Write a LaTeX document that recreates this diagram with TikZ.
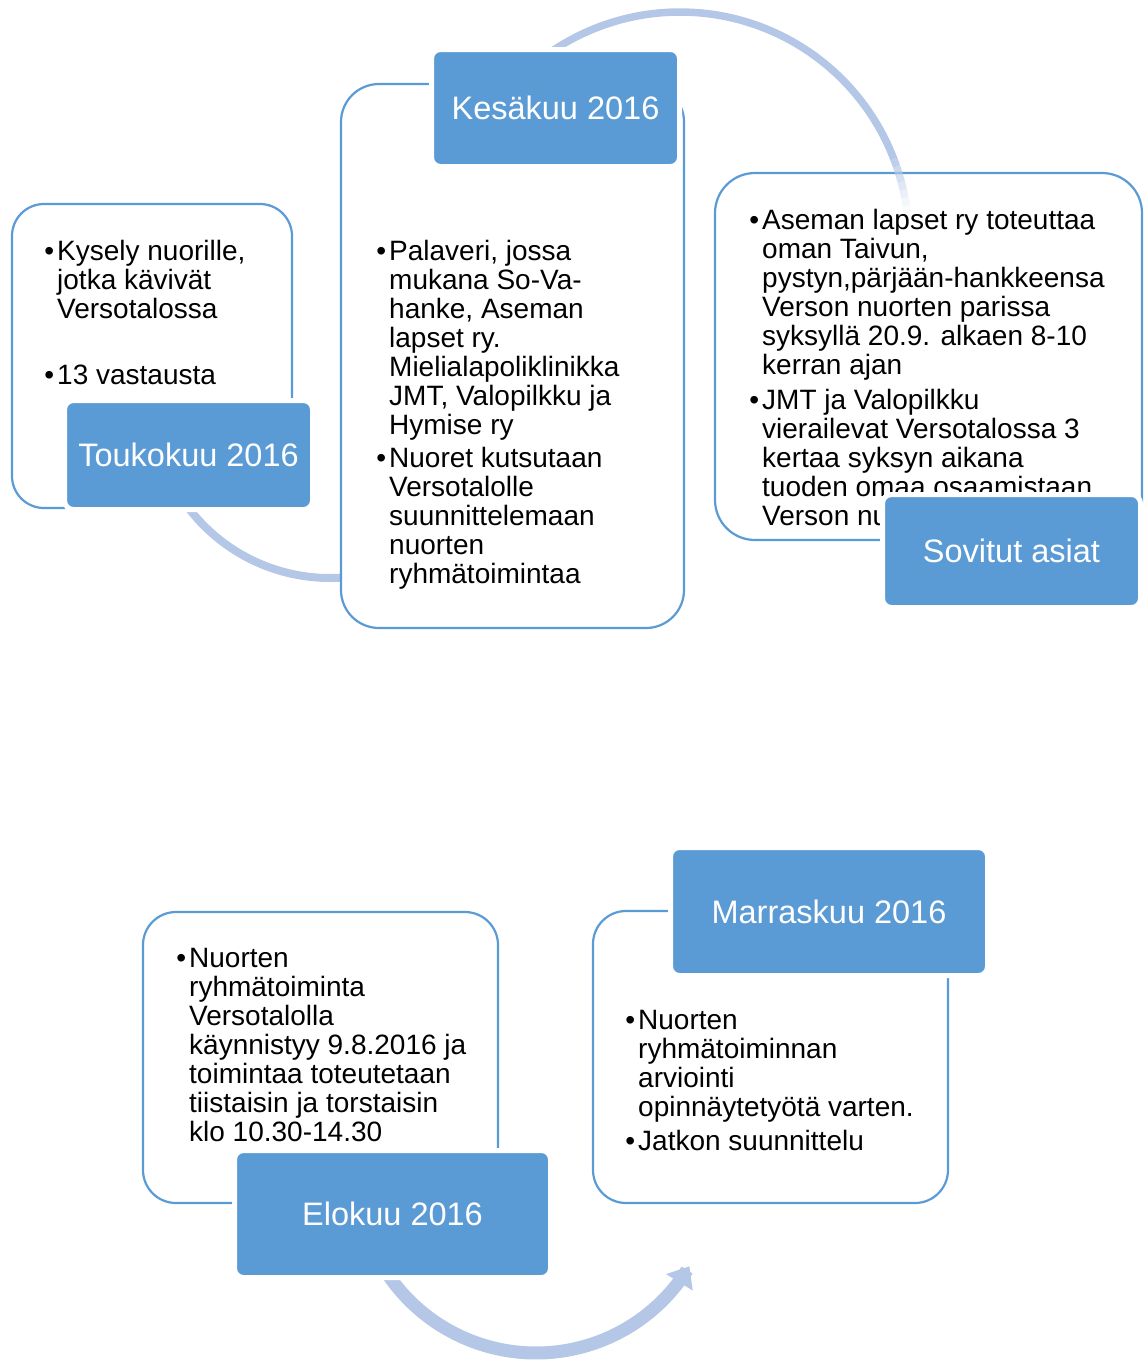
\documentclass[tikz,border=0pt]{standalone}
\usepackage{fontspec}
\setmainfont{Liberation Sans}
\usetikzlibrary{arrows.meta}
\definecolor{boxblue}{RGB}{91,155,213}
\definecolor{arcblue}{RGB}{180,199,231}
\newcommand{\bodyfont}{\fontsize{28}{29}\selectfont}
\newcommand{\bul}{\llap{•\hspace{3pt}}}
\tikzset{
  tbox/.style={draw=boxblue, line width=2.2pt, fill=white, rounded corners=34pt, inner sep=0pt},
  lbl/.style={fill=boxblue, draw=white, line width=5pt, rounded corners=9pt, text=white,
              font=\fontsize{32.5}{36}\selectfont, inner sep=0pt},
  body/.style={anchor=north west, inner sep=0pt, font=\bodyfont, text=black},
  arcline/.style={draw=arcblue, line width=8pt}
}
\begin{document}
\begin{tikzpicture}[x=1pt,y=-1pt]
\useasboundingbox (0,0) rectangle (1144,1360);

% connectors drawn behind the boxes
\draw[arcline] plot[domain=142:78, samples=60] ({330+178*cos(\x)},{400+178*sin(\x)});
\draw[arcline, line width=13pt, -{Triangle[length=19pt,width=30pt]}]
  plot[domain=146:31, samples=80] ({536+179*cos(\x)},{1174+179*sin(\x)});

% text boxes
\node[tbox, rounded corners=32pt, minimum width=280pt, minimum height=304pt] (tkb) at (152,356) {};
\node[tbox, rounded corners=38pt, minimum width=343pt, minimum height=544pt] (ksb) at (512.5,356) {};
\node[tbox, rounded corners=40pt, minimum width=427pt, minimum height=367pt] (svb) at (928.5,356.5) {};
\node[tbox, rounded corners=33pt, minimum width=355pt, minimum height=291pt] (elb) at (320.5,1057.5) {};
\node[tbox, rounded corners=33pt, minimum width=355pt, minimum height=292pt] (mrb) at (770.5,1057) {};

% body texts
\node[body] (tkt) at (57,239.7) {\begin{tabular}{@{}l@{}}
\bul Kysely nuorille,\\
jotka kävivät\\
Versotalossa\\[37pt]
\bul 13 vastausta
\end{tabular}};

\node[body] (kst) at (389,239.7) {\begin{tabular}{@{}l@{}}
\bul Palaveri, jossa\\
mukana So-Va-\\
hanke, Aseman\\
lapset ry.\\
Mielialapoliklinikka\\
JMT, Valopilkku ja\\
Hymise ry\\[4pt]
\bul Nuoret kutsutaan\\
Versotalolle\\
suunnittelemaan\\
nuorten\\
ryhmätoimintaa
\end{tabular}};

\node[body] (svt) at (762,208.7) {\begin{tabular}{@{}l@{}}
\bul Aseman lapset ry toteuttaa\\
oman Taivun,\\
pystyn,pärjään-hankkeensa\\
Verson nuorten parissa\\
syksyllä 20.9. alkaen 8-10\\
kerran ajan\\[6pt]
\bul JMT ja Valopilkku\\
vierailevat Versotalossa 3\\
kertaa syksyn aikana\\
tuoden omaa osaamistaan\\
Verson nu
\end{tabular}};

\node[body] (elt) at (189,946.7) {\begin{tabular}{@{}l@{}}
\bul Nuorten\\
ryhmätoiminta\\
Versotalolla\\
käynnistyy 9.8.2016 ja\\
toimintaa toteutetaan\\
tiistaisin ja torstaisin\\
klo 10.30-14.30
\end{tabular}};

\node[body] (mrt) at (638,1008.7) {\begin{tabular}{@{}l@{}}
\bul Nuorten\\
ryhmätoiminnan\\
arviointi\\
opinnäytetyötä varten.\\[5pt]
\bul Jatkon suunnittelu
\end{tabular}};

% top arc, fading into the right-hand box
\draw[arcline, line width=7.5pt] plot[domain=-125:-21, samples=80] ({680+229*cos(\x)},{241+229*sin(\x)});
\foreach \a/\b/\o in {-21/-19/0.85,-19/-17/0.7,-17/-15/0.55,-15/-13/0.4,-13/-11/0.27,-11/-9/0.15,-9/-7/0.06}
  \draw[arcline, line width=7.5pt, draw opacity=\o] plot[domain=\a:\b, samples=5] ({680+229*cos(\x)},{241+229*sin(\x)});

% label boxes (white rim lies outside the blue area)
\node[lbl, minimum width=248pt, minimum height=109pt] (tk) at (188.5,455) {Toukokuu 2016};
\node[lbl, minimum width=248pt, minimum height=117pt] (ks) at (555.5,108) {Kesäkuu 2016};
\node[lbl, minimum width=258pt, minimum height=113pt] (sv) at (1011.5,551) {Sovitut asiat};
\node[lbl, minimum width=316pt, minimum height=127pt] (el) at (392.5,1214) {Elokuu 2016};
\node[lbl, minimum width=317pt, minimum height=128pt] (mr) at (829,911.5) {Marraskuu 2016};
\end{tikzpicture}
\end{document}
